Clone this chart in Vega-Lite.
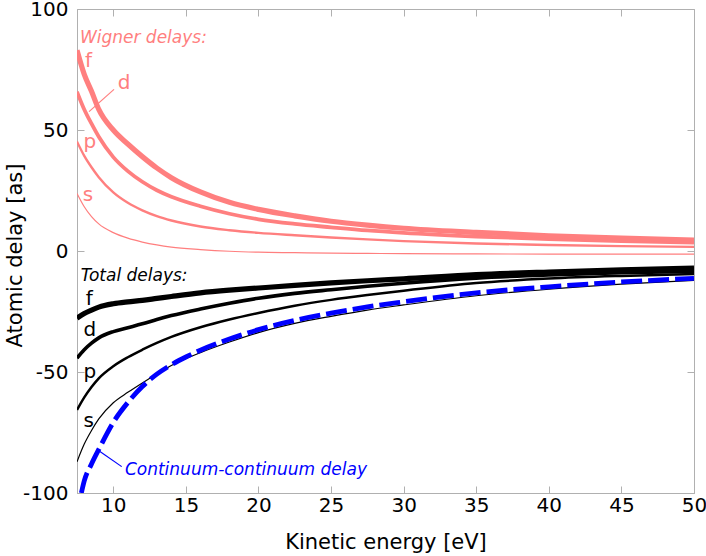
{
  "$schema": "https://vega.github.io/schema/vega-lite/v6.json",
  "width": 617,
  "height": 484,
  "autosize": {"type": "none"},
  "padding": {"left": 77, "top": 9, "right": 12, "bottom": 63},
  "config": {
    "view": {"stroke": "#b0b0b0", "strokeWidth": 1},
    "font": "DejaVu Sans",
    "axis": {
      "grid": false,
      "domainColor": "#b0b0b0",
      "tickColor": "#b0b0b0",
      "tickSize": -7,
      "labelFlush": false,
      "labelOverlap": false,
      "labelFont": "DejaVu Sans",
      "labelFontSize": 20,
      "labelColor": "#000000",
      "titleFont": "DejaVu Sans",
      "titleFontSize": 21,
      "titleFontWeight": "normal",
      "titleColor": "#000000"
    }
  },
  "datasets": {
    "curves": [
      {"series": "Wf", "x": 7.5, "y": 83}, {"series": "Wf", "x": 8, "y": 73}, {"series": "Wf", "x": 8.5, "y": 66}, {"series": "Wf", "x": 9, "y": 58.5}, {"series": "Wf", "x": 10, "y": 50}, {"series": "Wf", "x": 11, "y": 44.2}, {"series": "Wf", "x": 12, "y": 39}, {"series": "Wf", "x": 13, "y": 34.3}, {"series": "Wf", "x": 14, "y": 30.3}, {"series": "Wf", "x": 16, "y": 24.4}, {"series": "Wf", "x": 18, "y": 20.1}, {"series": "Wf", "x": 20, "y": 17.2}, {"series": "Wf", "x": 22.5, "y": 14.5}, {"series": "Wf", "x": 25, "y": 12.3}, {"series": "Wf", "x": 27.5, "y": 10.7}, {"series": "Wf", "x": 30, "y": 9.4}, {"series": "Wf", "x": 35, "y": 7.7}, {"series": "Wf", "x": 40, "y": 6.3}, {"series": "Wf", "x": 45, "y": 5.3}, {"series": "Wf", "x": 50, "y": 4.5},
      {"series": "Wd", "x": 7.5, "y": 65.8}, {"series": "Wd", "x": 8, "y": 58.5}, {"series": "Wd", "x": 8.5, "y": 52.6}, {"series": "Wd", "x": 9, "y": 47.2}, {"series": "Wd", "x": 10, "y": 38.8}, {"series": "Wd", "x": 11, "y": 33}, {"series": "Wd", "x": 12, "y": 28.6}, {"series": "Wd", "x": 13, "y": 25.1}, {"series": "Wd", "x": 14, "y": 22.4}, {"series": "Wd", "x": 16, "y": 18.5}, {"series": "Wd", "x": 18, "y": 15.4}, {"series": "Wd", "x": 20, "y": 13.1}, {"series": "Wd", "x": 22.5, "y": 11.2}, {"series": "Wd", "x": 25, "y": 9.8}, {"series": "Wd", "x": 27.5, "y": 8.5}, {"series": "Wd", "x": 30, "y": 7.5}, {"series": "Wd", "x": 35, "y": 6}, {"series": "Wd", "x": 40, "y": 4.9}, {"series": "Wd", "x": 45, "y": 4.1}, {"series": "Wd", "x": 50, "y": 3.5},
      {"series": "Wp", "x": 7.5, "y": 45.2}, {"series": "Wp", "x": 8, "y": 39.3}, {"series": "Wp", "x": 8.5, "y": 34.6}, {"series": "Wp", "x": 9, "y": 30.5}, {"series": "Wp", "x": 10, "y": 24.2}, {"series": "Wp", "x": 11, "y": 19.9}, {"series": "Wp", "x": 12, "y": 16.8}, {"series": "Wp", "x": 13, "y": 14.4}, {"series": "Wp", "x": 14, "y": 12.6}, {"series": "Wp", "x": 16, "y": 10.1}, {"series": "Wp", "x": 18, "y": 8.6}, {"series": "Wp", "x": 20, "y": 7.5}, {"series": "Wp", "x": 22.5, "y": 6.5}, {"series": "Wp", "x": 25, "y": 5.6}, {"series": "Wp", "x": 27.5, "y": 4.8}, {"series": "Wp", "x": 30, "y": 4.1}, {"series": "Wp", "x": 35, "y": 3.1}, {"series": "Wp", "x": 40, "y": 2.5}, {"series": "Wp", "x": 45, "y": 2}, {"series": "Wp", "x": 50, "y": 1.7},
      {"series": "Ws", "x": 7.5, "y": 23.8}, {"series": "Ws", "x": 8, "y": 18.3}, {"series": "Ws", "x": 8.5, "y": 14.2}, {"series": "Ws", "x": 9, "y": 11.2}, {"series": "Ws", "x": 10, "y": 7.6}, {"series": "Ws", "x": 11, "y": 5.3}, {"series": "Ws", "x": 12, "y": 3.7}, {"series": "Ws", "x": 13, "y": 2.5}, {"series": "Ws", "x": 14, "y": 1.6}, {"series": "Ws", "x": 16, "y": 0.6}, {"series": "Ws", "x": 18, "y": -0.1}, {"series": "Ws", "x": 20, "y": -0.5}, {"series": "Ws", "x": 22.5, "y": -0.7}, {"series": "Ws", "x": 25, "y": -0.9}, {"series": "Ws", "x": 27.5, "y": -1}, {"series": "Ws", "x": 30, "y": -1.1}, {"series": "Ws", "x": 35, "y": -1.2}, {"series": "Ws", "x": 40, "y": -1.3}, {"series": "Ws", "x": 45, "y": -1.3}, {"series": "Ws", "x": 50, "y": -1.3},
      {"series": "Tf", "x": 7.5, "y": -27.8}, {"series": "Tf", "x": 8, "y": -25.8}, {"series": "Tf", "x": 8.5, "y": -24.4}, {"series": "Tf", "x": 9, "y": -23.2}, {"series": "Tf", "x": 10, "y": -21.8}, {"series": "Tf", "x": 11, "y": -21}, {"series": "Tf", "x": 12, "y": -20.4}, {"series": "Tf", "x": 13, "y": -19.6}, {"series": "Tf", "x": 14, "y": -18.8}, {"series": "Tf", "x": 16, "y": -17.3}, {"series": "Tf", "x": 18, "y": -16.2}, {"series": "Tf", "x": 20, "y": -15.3}, {"series": "Tf", "x": 22.5, "y": -14.2}, {"series": "Tf", "x": 25, "y": -13.2}, {"series": "Tf", "x": 27.5, "y": -12.3}, {"series": "Tf", "x": 30, "y": -11.5}, {"series": "Tf", "x": 35, "y": -9.8}, {"series": "Tf", "x": 40, "y": -8.7}, {"series": "Tf", "x": 45, "y": -7.8}, {"series": "Tf", "x": 50, "y": -7.1},
      {"series": "Td", "x": 7.5, "y": -44.3}, {"series": "Td", "x": 8, "y": -40.8}, {"series": "Td", "x": 8.5, "y": -38.1}, {"series": "Td", "x": 9, "y": -35.9}, {"series": "Td", "x": 10, "y": -33.3}, {"series": "Td", "x": 11, "y": -31.7}, {"series": "Td", "x": 12, "y": -30.1}, {"series": "Td", "x": 13, "y": -28.3}, {"series": "Td", "x": 14, "y": -26.7}, {"series": "Td", "x": 16, "y": -24}, {"series": "Td", "x": 18, "y": -21.6}, {"series": "Td", "x": 20, "y": -19.5}, {"series": "Td", "x": 22.5, "y": -17.5}, {"series": "Td", "x": 25, "y": -16}, {"series": "Td", "x": 27.5, "y": -14.6}, {"series": "Td", "x": 30, "y": -13.3}, {"series": "Td", "x": 35, "y": -11.2}, {"series": "Td", "x": 40, "y": -9.9}, {"series": "Td", "x": 45, "y": -9}, {"series": "Td", "x": 50, "y": -8.4},
      {"series": "Tp", "x": 7.5, "y": -65.7}, {"series": "Tp", "x": 8, "y": -60.5}, {"series": "Tp", "x": 8.5, "y": -56.2}, {"series": "Tp", "x": 9, "y": -52.6}, {"series": "Tp", "x": 10, "y": -47.6}, {"series": "Tp", "x": 11, "y": -43.9}, {"series": "Tp", "x": 12, "y": -40.8}, {"series": "Tp", "x": 13, "y": -38}, {"series": "Tp", "x": 14, "y": -35.5}, {"series": "Tp", "x": 16, "y": -31.5}, {"series": "Tp", "x": 18, "y": -28.3}, {"series": "Tp", "x": 20, "y": -25.6}, {"series": "Tp", "x": 22.5, "y": -22.6}, {"series": "Tp", "x": 25, "y": -20.2}, {"series": "Tp", "x": 27.5, "y": -18.2}, {"series": "Tp", "x": 30, "y": -16.4}, {"series": "Tp", "x": 35, "y": -13.2}, {"series": "Tp", "x": 40, "y": -11.4}, {"series": "Tp", "x": 45, "y": -10.3}, {"series": "Tp", "x": 50, "y": -9.5},
      {"series": "Ts", "x": 7.5, "y": -87.1}, {"series": "Ts", "x": 8, "y": -79.8}, {"series": "Ts", "x": 8.5, "y": -74.2}, {"series": "Ts", "x": 9, "y": -69.4}, {"series": "Ts", "x": 10, "y": -62.7}, {"series": "Ts", "x": 11, "y": -58.4}, {"series": "Ts", "x": 12, "y": -54.5}, {"series": "Ts", "x": 13, "y": -50.8}, {"series": "Ts", "x": 14, "y": -47.3}, {"series": "Ts", "x": 16, "y": -42}, {"series": "Ts", "x": 18, "y": -37.6}, {"series": "Ts", "x": 20, "y": -33.7}, {"series": "Ts", "x": 22.5, "y": -29.9}, {"series": "Ts", "x": 25, "y": -27}, {"series": "Ts", "x": 27.5, "y": -24.4}, {"series": "Ts", "x": 30, "y": -22.3}, {"series": "Ts", "x": 35, "y": -18.5}, {"series": "Ts", "x": 40, "y": -15.8}, {"series": "Ts", "x": 45, "y": -13.7}, {"series": "Ts", "x": 50, "y": -12.1},
      {"series": "CC", "x": 7.8, "y": -100}, {"series": "CC", "x": 8, "y": -95}, {"series": "CC", "x": 8.5, "y": -88}, {"series": "CC", "x": 9, "y": -82}, {"series": "CC", "x": 10, "y": -70.8}, {"series": "CC", "x": 11, "y": -62.6}, {"series": "CC", "x": 12, "y": -56}, {"series": "CC", "x": 13, "y": -50.9}, {"series": "CC", "x": 14, "y": -47}, {"series": "CC", "x": 15, "y": -43.8}, {"series": "CC", "x": 16, "y": -41}, {"series": "CC", "x": 18, "y": -36.4}, {"series": "CC", "x": 20, "y": -32.5}, {"series": "CC", "x": 22.5, "y": -28.7}, {"series": "CC", "x": 25, "y": -25.7}, {"series": "CC", "x": 27.5, "y": -23.1}, {"series": "CC", "x": 30, "y": -21}, {"series": "CC", "x": 35, "y": -17.3}, {"series": "CC", "x": 40, "y": -14.8}, {"series": "CC", "x": 45, "y": -12.8}, {"series": "CC", "x": 50, "y": -11.3}
    ],
    "labels": [
      {"group": "wh", "text": "Wigner delays:", "x": 7.7, "y": 88},
      {"group": "wl", "text": "f", "x": 8.05, "y": 78.5},
      {"group": "wl", "text": "d", "x": 10.3, "y": 69.6},
      {"group": "wl", "text": "p", "x": 7.95, "y": 45},
      {"group": "wl", "text": "s", "x": 7.9, "y": 23.1},
      {"group": "th", "text": "Total delays:", "x": 7.75, "y": -10.5},
      {"group": "tl", "text": "f", "x": 8.1, "y": -20},
      {"group": "tl", "text": "d", "x": 7.95, "y": -32.6},
      {"group": "tl", "text": "p", "x": 7.95, "y": -50},
      {"group": "tl", "text": "s", "x": 7.95, "y": -70.2},
      {"group": "ch", "text": "Continuum-continuum delay", "x": 10.8, "y": -90.3}
    ],
    "leaders": [
      {"group": "wl", "x": 10.05, "y": 66.8, "x2": 8.33, "y2": 57.6},
      {"group": "ch", "x": 10.58, "y": -89.1, "x2": 9.08, "y2": -82.9}
    ]
  },
  "layer": [
    {
      "data": {"name": "curves"},
      "transform": [{"filter": "datum.series == 'Ws'"}],
      "mark": {"type": "line", "interpolate": "monotone", "clip": true, "color": "#ff7f7f", "strokeWidth": 1.2},
      "encoding": {
        "x": {"field": "x", "type": "quantitative", "scale": {"domain": [7.5, 50], "nice": false, "zero": false},
              "axis": {"orient": "bottom", "values": [10, 15, 20, 25, 30, 35, 40, 45, 50], "title": "Kinetic energy [eV]", "labelPadding": 9, "titleY": 38}},
        "y": {"field": "y", "type": "quantitative", "scale": {"domain": [-100, 100], "nice": false, "zero": false},
              "axis": {"orient": "left", "values": [-100, -50, 0, 50, 100], "labelExpr": "datum.value < 0 ? '-' + (-datum.value) : '' + datum.value", "title": "Atomic delay [as]", "labelPadding": 16, "titleX": -52, "titleY": 246}}
      }
    },
    {
      "data": {"name": "curves"},
      "transform": [{"filter": "datum.series == 'Wp'"}],
      "mark": {"type": "line", "interpolate": "monotone", "clip": true, "color": "#ff7f7f", "strokeWidth": 2.4},
      "encoding": {
        "x": {"field": "x", "type": "quantitative", "axis": {"orient": "top", "values": [10, 15, 20, 25, 30, 35, 40, 45, 50], "labels": false, "title": null, "domain": false}},
        "y": {"field": "y", "type": "quantitative", "axis": {"orient": "right", "values": [-100, -50, 0, 50, 100], "labels": false, "title": null, "domain": false}}
      }
    },
    {
      "data": {"name": "curves"},
      "transform": [{"filter": "datum.series == 'Wd'"}],
      "mark": {"type": "line", "interpolate": "monotone", "clip": true, "color": "#ff7f7f", "strokeWidth": 3.8},
      "encoding": {
        "x": {"field": "x", "type": "quantitative", "axis": null},
        "y": {"field": "y", "type": "quantitative", "axis": null}
      }
    },
    {
      "data": {"name": "curves"},
      "transform": [{"filter": "datum.series == 'Wf'"}],
      "mark": {"type": "line", "interpolate": "monotone", "clip": true, "color": "#ff7f7f", "strokeWidth": 5.2},
      "encoding": {
        "x": {"field": "x", "type": "quantitative", "axis": null},
        "y": {"field": "y", "type": "quantitative", "axis": null}
      }
    },
    {
      "data": {"name": "curves"},
      "transform": [{"filter": "datum.series == 'Ts'"}],
      "mark": {"type": "line", "interpolate": "monotone", "clip": true, "color": "#000000", "strokeWidth": 1.2},
      "encoding": {
        "x": {"field": "x", "type": "quantitative", "axis": null},
        "y": {"field": "y", "type": "quantitative", "axis": null}
      }
    },
    {
      "data": {"name": "curves"},
      "transform": [{"filter": "datum.series == 'Tp'"}],
      "mark": {"type": "line", "interpolate": "monotone", "clip": true, "color": "#000000", "strokeWidth": 2.5},
      "encoding": {
        "x": {"field": "x", "type": "quantitative", "axis": null},
        "y": {"field": "y", "type": "quantitative", "axis": null}
      }
    },
    {
      "data": {"name": "curves"},
      "transform": [{"filter": "datum.series == 'Td'"}],
      "mark": {"type": "line", "interpolate": "monotone", "clip": true, "color": "#000000", "strokeWidth": 3.6},
      "encoding": {
        "x": {"field": "x", "type": "quantitative", "axis": null},
        "y": {"field": "y", "type": "quantitative", "axis": null}
      }
    },
    {
      "data": {"name": "curves"},
      "transform": [{"filter": "datum.series == 'Tf'"}],
      "mark": {"type": "line", "interpolate": "monotone", "clip": true, "color": "#000000", "strokeWidth": 5.2},
      "encoding": {
        "x": {"field": "x", "type": "quantitative", "axis": null},
        "y": {"field": "y", "type": "quantitative", "axis": null}
      }
    },
    {
      "data": {"name": "curves"},
      "transform": [{"filter": "datum.series == 'CC'"}],
      "mark": {"type": "line", "interpolate": "monotone", "clip": true, "color": "#0000ff", "strokeWidth": 4.8, "strokeDash": [21, 6]},
      "encoding": {
        "x": {"field": "x", "type": "quantitative", "axis": null},
        "y": {"field": "y", "type": "quantitative", "axis": null}
      }
    },
    {
      "data": {"name": "leaders"},
      "mark": {"type": "rule", "strokeWidth": 1.2},
      "encoding": {
        "x": {"field": "x", "type": "quantitative", "axis": null},
        "y": {"field": "y", "type": "quantitative", "axis": null},
        "x2": {"field": "x2"},
        "y2": {"field": "y2"},
        "color": {"field": "group", "type": "nominal", "scale": {"domain": ["wl", "ch"], "range": ["#ff7f7f", "#0000ff"]}, "legend": null}
      }
    },
    {
      "data": {"name": "labels"},
      "transform": [{"filter": "datum.group == 'wh' || datum.group == 'th' || datum.group == 'ch'"}],
      "mark": {"type": "text", "align": "left", "baseline": "middle", "fontSize": 17, "fontStyle": "italic", "font": "DejaVu Sans"},
      "encoding": {
        "x": {"field": "x", "type": "quantitative", "axis": null},
        "y": {"field": "y", "type": "quantitative", "axis": null},
        "text": {"field": "text"},
        "color": {"field": "group", "type": "nominal", "scale": {"domain": ["wh", "th", "ch"], "range": ["#ff7f7f", "#000000", "#0000ff"]}, "legend": null}
      }
    },
    {
      "data": {"name": "labels"},
      "transform": [{"filter": "datum.group == 'wl' || datum.group == 'tl'"}],
      "mark": {"type": "text", "align": "left", "baseline": "middle", "fontSize": 20, "font": "DejaVu Sans"},
      "encoding": {
        "x": {"field": "x", "type": "quantitative", "axis": null},
        "y": {"field": "y", "type": "quantitative", "axis": null},
        "text": {"field": "text"},
        "color": {"field": "group", "type": "nominal", "scale": {"domain": ["wl", "tl"], "range": ["#ff7f7f", "#000000"]}, "legend": null}
      }
    }
  ],
  "resolve": {"axis": {"x": "independent", "y": "independent"}, "scale": {"color": "independent"}}
}
